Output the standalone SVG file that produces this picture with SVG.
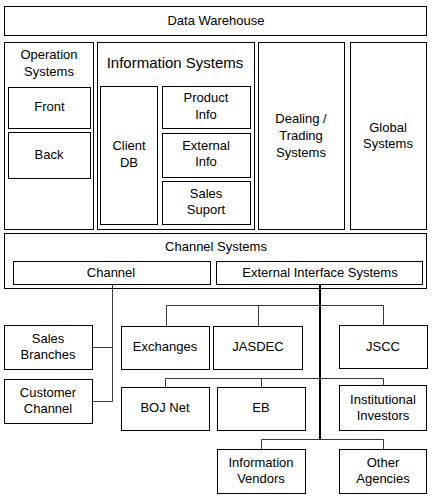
<svg xmlns="http://www.w3.org/2000/svg" width="433" height="500" viewBox="0 0 433 500">
<style>
rect{fill:#fff;stroke:#000;stroke-width:1}
text{font-family:"Liberation Sans",Arial,sans-serif;font-size:13px;fill:#000;text-anchor:middle}
.big{font-size:15px}
.c{fill:none;stroke:#3a3a3a;stroke-width:1}
.trunk{fill:none;stroke:#000;stroke-width:2}
</style>
<rect x="0" y="0" width="433" height="500" style="stroke:none"/>
<g id="data-warehouse"><rect x="4.5" y="6.5" width="422" height="29"/><text x="216" y="25">Data Warehouse</text></g>
<g id="operation-systems"><rect x="4.5" y="42.5" width="89" height="187"/><text x="49" y="59">Operation</text><text x="49" y="76">Systems</text></g>
<g id="front"><rect x="8.5" y="87.5" width="82" height="41"/><text x="49.5" y="111">Front</text></g>
<g id="back"><rect x="8.5" y="132.5" width="82" height="46"/><text x="49" y="159">Back</text></g>
<g id="information-systems"><rect x="97.5" y="42.5" width="157" height="187"/><text class="big" x="175" y="68">Information Systems</text></g>
<g id="client-db"><rect x="100.5" y="86.5" width="57" height="138"/><text x="129" y="150">Client</text><text x="129" y="167">DB</text></g>
<g id="product-info"><rect x="162.5" y="86.5" width="88" height="42"/><text x="206" y="102">Product</text><text x="206" y="119">Info</text></g>
<g id="external-info"><rect x="162.5" y="133.5" width="88" height="44"/><text x="206" y="150">External</text><text x="206" y="166">Info</text></g>
<g id="sales-suport"><rect x="162.5" y="181.5" width="88" height="43"/><text x="206" y="198">Sales</text><text x="206" y="214">Suport</text></g>
<g id="dealing-trading"><rect x="258.5" y="42.5" width="86" height="187"/><text x="301" y="123">Dealing /</text><text x="301" y="140">Trading</text><text x="301" y="157">Systems</text></g>
<g id="global-systems"><rect x="350.5" y="42.5" width="76" height="187"/><text x="388" y="132">Global</text><text x="388" y="148">Systems</text></g>
<g id="channel-systems"><rect x="4.5" y="233.5" width="422" height="55"/><text x="216" y="251">Channel Systems</text></g>
<g id="channel"><rect x="13.5" y="261.5" width="197" height="23"/><text x="111" y="277">Channel</text></g>
<g id="external-interface"><rect x="216.5" y="261.5" width="206" height="23"/><text x="320" y="277">External Interface Systems</text></g>
<g id="connectors">
<path class="c" d="M112.5 284.5V401.5H92.5M92.5 347.5H112.5"/>
<path class="trunk" d="M320 284.5V439"/>
<path class="c" d="M166.5 326V305.5H383.5V325M258.5 305.5V326"/>
<path class="c" d="M165.5 387V378.5H383.5V385M261.5 378.5V387"/>
<path class="c" d="M261.5 449V439.5H383.5V449"/>
</g>
<g id="sales-branches"><rect x="4.5" y="325.5" width="88" height="44"/><text x="48" y="343">Sales</text><text x="48" y="359">Branches</text></g>
<g id="customer-channel"><rect x="4.5" y="379.5" width="88" height="44"/><text x="48" y="397">Customer</text><text x="48" y="413">Channel</text></g>
<g id="exchanges"><rect x="121.5" y="326.5" width="88" height="43"/><text x="165" y="351">Exchanges</text></g>
<g id="jasdec"><rect x="213.5" y="326.5" width="89" height="43"/><text x="258" y="351">JASDEC</text></g>
<g id="jscc"><rect x="339.5" y="325.5" width="88" height="43"/><text x="383" y="351">JSCC</text></g>
<g id="boj-net"><rect x="121.5" y="387.5" width="88" height="43"/><text x="165" y="412">BOJ Net</text></g>
<g id="eb"><rect x="217.5" y="387.5" width="88" height="43"/><text x="261" y="412">EB</text></g>
<g id="institutional-investors"><rect x="339.5" y="385.5" width="87" height="45"/><text x="383" y="404">Institutional</text><text x="383" y="420">Investors</text></g>
<g id="information-vendors"><rect x="217.5" y="449.5" width="88" height="44"/><text x="261" y="467">Information</text><text x="261" y="483">Vendors</text></g>
<g id="other-agencies"><rect x="339.5" y="449.5" width="87" height="44"/><text x="383" y="467">Other</text><text x="383" y="483">Agencies</text></g>
</svg>
